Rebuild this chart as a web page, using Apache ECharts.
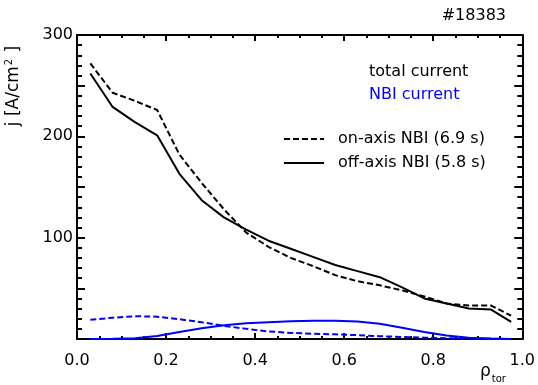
<!DOCTYPE html>
<html>
<head>
<meta charset="utf-8">
<script src="https://cdn.jsdelivr.net/npm/echarts@6/dist/echarts.min.js"></script>
<style>
  html, body { margin: 0; padding: 0; background: #fff; }
  #chart { width: 538px; height: 385px; }
</style>
</head>
<body>
<div id="chart"></div>
<script>
// normalised radius (rho_tor) grid
const rho = [0.03, 0.08, 0.13, 0.18, 0.23, 0.28, 0.33, 0.38, 0.43, 0.48,
  0.53, 0.58, 0.63, 0.68, 0.73, 0.78, 0.83, 0.88, 0.93, 0.975];

// total current, on-axis NBI (6.9 s) - dashed black
const onAxisTotal = [272, 243, 235, 226, 182, 154, 128, 105, 91, 80,
  72, 63, 57, 53, 48, 42, 35, 33, 33, 23];
// total current, off-axis NBI (5.8 s) - solid black
const offAxisTotal = [262, 229, 214, 201, 163, 137, 120, 108, 97, 89,
  81, 73, 67, 61, 51, 40, 35, 30, 29, 17];
// NBI driven current, on-axis - dashed blue
const onAxisNbi = [19, 21, 22.5, 22, 19.5, 16.5, 13, 10, 7.5, 6,
  5.2, 4.6, 3.8, 2.8, 2, 1.3, 0.8, 0.4, 0.2, 0];
// NBI driven current, off-axis - solid blue
const offAxisNbi = [0, 0.2, 0.8, 3, 7, 10.5, 13.5, 15.5, 16.5, 17.5,
  18, 18, 17.3, 15, 11, 7, 3.5, 1.3, 0.4, 0];

const xTicks = [0, 0.2, 0.4, 0.6, 0.8, 1.0];
const yTickLabels = [100, 200, 300];
const legendNames = ['on-axis NBI (6.9 s)', 'off-axis NBI (5.8 s)'];

const FONT = 'DejaVu Sans';
const BLUE = '#0000ff';
const DASH = [6, 3];
const pairs = (ys) => rho.map((r, i) => [r, ys[i]]);

const chart = echarts.init(document.getElementById('chart'), null, { renderer: 'canvas' });

const tickStyle = { color: '#000', width: 2 };
const baseX = {
  type: 'value',
  min: xTicks[0],
  max: xTicks[xTicks.length - 1],
  interval: 0.2,
  splitLine: { show: false },
  axisLine: { onZero: false, lineStyle: tickStyle },
  axisTick: { inside: true, length: 6, lineStyle: tickStyle },
  minorTick: { show: true, splitNumber: 4, length: 3, lineStyle: tickStyle },
};
const baseY = {
  type: 'value',
  min: 0,
  max: 300,
  interval: 50,
  splitLine: { show: false },
  axisLine: { show: true, onZero: false, lineStyle: tickStyle },
  axisTick: { show: true, inside: true, length: 8, lineStyle: tickStyle },
  minorTick: { show: true, splitNumber: 5, length: 5, lineStyle: tickStyle },
};

// legend samples (line + label), drawn as plain graphics
const legendGraphics = [];
legendNames.forEach((name, i) => {
  const y = 139 + i * 24;
  legendGraphics.push({
    type: 'line',
    shape: { x1: 284, y1: y, x2: 324, y2: y },
    style: { stroke: '#000', lineWidth: 2, lineDash: i === 0 ? DASH : null },
  });
  legendGraphics.push({
    type: 'text', x: 338, y: y,
    style: { text: name, font: `16px "${FONT}"`, fill: '#000', textAlign: 'left', textVerticalAlign: 'middle' },
  });
});

chart.setOption({
  animation: false,
  backgroundColor: '#fff',
  grid: { left: 77, right: 15, top: 35, bottom: 46 },
  xAxis: [
    {
      ...baseX,
      position: 'bottom',
      axisLabel: {
        fontFamily: FONT, fontSize: 16, color: '#000', margin: 14,
        formatter: (v) => v.toFixed(1),
      },
    },
    { ...baseX, position: 'top', axisLabel: { show: false } },
  ],
  yAxis: [
    {
      ...baseY,
      position: 'left',
      axisLabel: {
        fontFamily: FONT, fontSize: 16, color: '#000', margin: 4,
        formatter: (v) => (yTickLabels.includes(v) ? String(v) : ''),
      },
    },
    { ...baseY, position: 'right', axisLabel: { show: false } },
  ],
  series: [
    {
      name: legendNames[0], type: 'line', symbol: 'none', data: pairs(onAxisTotal),
      lineStyle: { color: '#000', width: 2, type: DASH },
    },
    {
      name: legendNames[1], type: 'line', symbol: 'none', data: pairs(offAxisTotal),
      lineStyle: { color: '#000', width: 2 },
    },
    {
      name: 'NBI on-axis', type: 'line', symbol: 'none', data: pairs(onAxisNbi),
      lineStyle: { color: BLUE, width: 2, type: DASH },
    },
    {
      name: 'NBI off-axis', type: 'line', symbol: 'none', data: pairs(offAxisNbi),
      lineStyle: { color: BLUE, width: 2 },
    },
  ],
  graphic: [
    {
      type: 'text', x: 506, y: 16,
      style: { text: '#18383', font: `16px "${FONT}"`, fill: '#000', textAlign: 'right', textVerticalAlign: 'middle' },
    },
    {
      type: 'text', x: 369, y: 72,
      style: { text: 'total current', font: `16px "${FONT}"`, fill: '#000', textAlign: 'left', textVerticalAlign: 'middle' },
    },
    {
      type: 'text', x: 369, y: 95,
      style: { text: 'NBI current', font: `16px "${FONT}"`, fill: BLUE, textAlign: 'left', textVerticalAlign: 'middle' },
    },
    {
      type: 'text', x: 14, y: 86, rotation: Math.PI / 2,
      style: {
        text: '{a|j [A/cm}{b|2}{a| ]}',
        textAlign: 'center', textVerticalAlign: 'middle',
        rich: {
          a: { fontFamily: FONT, fontSize: 17, color: '#000' },
          b: { fontFamily: FONT, fontSize: 10, color: '#000', padding: [0, 1, 10, 1] },
        },
      },
    },
    {
      type: 'text', x: 480, y: 372,
      style: {
        text: '{r|ρ}{s|tor}',
        textVerticalAlign: 'middle',
        rich: {
          r: { fontFamily: FONT, fontSize: 17, color: '#000' },
          s: { fontFamily: FONT, fontSize: 10, color: '#000', padding: [14, 0, 0, 1] },
        },
      },
    },
    ...legendGraphics,
  ],
});
</script>
</body>
</html>
